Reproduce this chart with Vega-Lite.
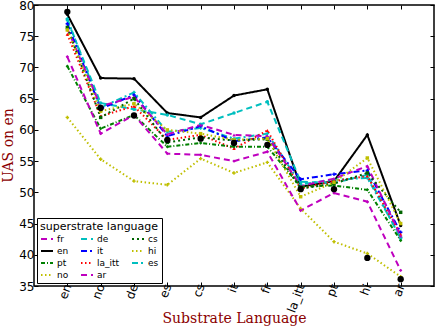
{
  "$schema": "https://vega.github.io/schema/vega-lite/v6.json",
  "width": 400,
  "height": 281,
  "autosize": {"type": "none"},
  "padding": {"left": 34, "top": 5, "right": 2, "bottom": 41},
  "background": "white",
  "config": {
    "view": {"stroke": "black", "strokeWidth": 1.5},
    "font": "DejaVu Sans",
    "axis": {"grid": false, "domain": false, "tickColor": "black", "tickSize": -4, "tickWidth": 1, "labelColor": "black", "labelFont": "DejaVu Sans", "labelFontSize": 12, "titleFont": "DejaVu Serif", "titleFontWeight": "normal", "titleFontSize": 15, "titleColor": "#8b0000"},
    "legend": {"strokeColor": "black", "fillColor": "white", "padding": 3, "cornerRadius": 0, "titleFont": "DejaVu Sans", "titleFontSize": 11, "titleFontWeight": "normal", "titleColor": "black", "titlePadding": 0, "labelFont": "DejaVu Sans", "labelFontSize": 9, "labelColor": "black"}
  },
  "data": {"values": [
    {"sup":"en","sub":"en","uas":78.5},{"sup":"en","sub":"no","uas":68.3},{"sup":"en","sub":"de","uas":68.2},{"sup":"en","sub":"es","uas":62.7},{"sup":"en","sub":"cs","uas":62.0},{"sup":"en","sub":"it","uas":65.5},{"sup":"en","sub":"fr","uas":66.5},{"sup":"en","sub":"la_itt","uas":50.9},{"sup":"en","sub":"pt","uas":51.8},{"sup":"en","sub":"hi","uas":59.2},{"sup":"en","sub":"ar","uas":44.7},
    {"sup":"de","sub":"en","uas":77.6},{"sup":"de","sub":"no","uas":64.3},{"sup":"de","sub":"de","uas":63.3},{"sup":"de","sub":"es","uas":62.4},{"sup":"de","sub":"cs","uas":60.9},{"sup":"de","sub":"it","uas":62.7},{"sup":"de","sub":"fr","uas":64.5},{"sup":"de","sub":"la_itt","uas":51.7},{"sup":"de","sub":"pt","uas":51.5},{"sup":"de","sub":"hi","uas":52.8},{"sup":"de","sub":"ar","uas":42.6},
    {"sup":"es","sub":"en","uas":77.8},{"sup":"es","sub":"no","uas":63.6},{"sup":"es","sub":"de","uas":66.0},{"sup":"es","sub":"es","uas":59.7},{"sup":"es","sub":"cs","uas":60.3},{"sup":"es","sub":"it","uas":58.6},{"sup":"es","sub":"fr","uas":59.4},{"sup":"es","sub":"la_itt","uas":51.3},{"sup":"es","sub":"pt","uas":52.0},{"sup":"es","sub":"hi","uas":52.3},{"sup":"es","sub":"ar","uas":42.8},
    {"sup":"it","sub":"en","uas":77.0},{"sup":"it","sub":"no","uas":63.4},{"sup":"it","sub":"de","uas":65.6},{"sup":"it","sub":"es","uas":59.0},{"sup":"it","sub":"cs","uas":60.6},{"sup":"it","sub":"it","uas":58.2},{"sup":"it","sub":"fr","uas":58.8},{"sup":"it","sub":"la_itt","uas":52.1},{"sup":"it","sub":"pt","uas":52.9},{"sup":"it","sub":"hi","uas":53.5},{"sup":"it","sub":"ar","uas":43.6},
    {"sup":"la_itt","sub":"en","uas":75.3},{"sup":"la_itt","sub":"no","uas":62.2},{"sup":"la_itt","sub":"de","uas":63.8},{"sup":"la_itt","sub":"es","uas":58.4},{"sup":"la_itt","sub":"cs","uas":59.2},{"sup":"la_itt","sub":"it","uas":57.0},{"sup":"la_itt","sub":"fr","uas":59.9},{"sup":"la_itt","sub":"la_itt","uas":50.6},{"sup":"la_itt","sub":"pt","uas":51.8},{"sup":"la_itt","sub":"hi","uas":52.6},{"sup":"la_itt","sub":"ar","uas":43.3},
    {"sup":"fr","sub":"en","uas":76.2},{"sup":"fr","sub":"no","uas":63.8},{"sup":"fr","sub":"de","uas":65.3},{"sup":"fr","sub":"es","uas":59.3},{"sup":"fr","sub":"cs","uas":60.8},{"sup":"fr","sub":"it","uas":59.2},{"sup":"fr","sub":"fr","uas":59.0},{"sup":"fr","sub":"la_itt","uas":51.0},{"sup":"fr","sub":"pt","uas":52.2},{"sup":"fr","sub":"hi","uas":54.2},{"sup":"fr","sub":"ar","uas":43.0},
    {"sup":"pt","sub":"en","uas":70.2},{"sup":"pt","sub":"no","uas":60.2},{"sup":"pt","sub":"de","uas":62.4},{"sup":"pt","sub":"es","uas":57.3},{"sup":"pt","sub":"cs","uas":57.9},{"sup":"pt","sub":"it","uas":57.3},{"sup":"pt","sub":"fr","uas":57.3},{"sup":"pt","sub":"la_itt","uas":50.9},{"sup":"pt","sub":"pt","uas":51.1},{"sup":"pt","sub":"hi","uas":50.4},{"sup":"pt","sub":"ar","uas":42.3},
    {"sup":"cs","sub":"en","uas":76.4},{"sup":"cs","sub":"no","uas":62.0},{"sup":"cs","sub":"de","uas":65.0},{"sup":"cs","sub":"es","uas":58.0},{"sup":"cs","sub":"cs","uas":58.8},{"sup":"cs","sub":"it","uas":58.3},{"sup":"cs","sub":"fr","uas":58.5},{"sup":"cs","sub":"la_itt","uas":50.6},{"sup":"cs","sub":"pt","uas":51.4},{"sup":"cs","sub":"hi","uas":53.1},{"sup":"cs","sub":"ar","uas":46.8},
    {"sup":"no","sub":"en","uas":76.0},{"sup":"no","sub":"no","uas":63.0},{"sup":"no","sub":"de","uas":64.2},{"sup":"no","sub":"es","uas":60.0},{"sup":"no","sub":"cs","uas":59.4},{"sup":"no","sub":"it","uas":58.4},{"sup":"no","sub":"fr","uas":58.6},{"sup":"no","sub":"la_itt","uas":49.3},{"sup":"no","sub":"pt","uas":51.6},{"sup":"no","sub":"hi","uas":55.5},{"sup":"no","sub":"ar","uas":45.0},
    {"sup":"hi","sub":"en","uas":62.0},{"sup":"hi","sub":"no","uas":55.3},{"sup":"hi","sub":"de","uas":51.8},{"sup":"hi","sub":"es","uas":51.2},{"sup":"hi","sub":"cs","uas":55.4},{"sup":"hi","sub":"it","uas":53.1},{"sup":"hi","sub":"fr","uas":54.8},{"sup":"hi","sub":"la_itt","uas":47.4},{"sup":"hi","sub":"pt","uas":42.1},{"sup":"hi","sub":"hi","uas":40.2},{"sup":"hi","sub":"ar","uas":36.5},
    {"sup":"ar","sub":"en","uas":71.7},{"sup":"ar","sub":"no","uas":59.4},{"sup":"ar","sub":"de","uas":62.4},{"sup":"ar","sub":"es","uas":56.2},{"sup":"ar","sub":"cs","uas":56.0},{"sup":"ar","sub":"it","uas":55.0},{"sup":"ar","sub":"fr","uas":56.5},{"sup":"ar","sub":"la_itt","uas":47.1},{"sup":"ar","sub":"pt","uas":49.9},{"sup":"ar","sub":"hi","uas":48.5},{"sup":"ar","sub":"ar","uas":37.5},
    {"sup":"ref","sub":"en","uas":78.9},{"sup":"ref","sub":"no","uas":63.5},{"sup":"ref","sub":"de","uas":62.3},{"sup":"ref","sub":"es","uas":58.4},{"sup":"ref","sub":"cs","uas":58.6},{"sup":"ref","sub":"it","uas":57.9},{"sup":"ref","sub":"fr","uas":57.6},{"sup":"ref","sub":"la_itt","uas":50.5},{"sup":"ref","sub":"pt","uas":50.5},{"sup":"ref","sub":"hi","uas":39.5},{"sup":"ref","sub":"ar","uas":36.1}
  ]},
  "resolve": {"axis": {"x": "independent", "y": "independent"}, "legend": {"color": "independent", "shape": "independent", "strokeDash": "independent"}},
  "layer": [
    {
      "transform": [{"filter": "datum.sup !== 'ref'"}],
      "mark": {"type": "line", "strokeWidth": 2},
      "encoding": {
        "x": {"field": "sub", "type": "nominal", "scale": {"type": "point", "padding": 1, "domain": ["en","no","de","es","cs","it","fr","la_itt","pt","hi","ar"]},
              "axis": {"orient": "bottom", "title": "Substrate Language", "labelAngle": -70, "labelAlign": "right", "labelBaseline": "middle", "labelPadding": 2, "titleFontSize": 14, "titleY": 36, "titleBaseline": "alphabetic"}},
        "y": {"field": "uas", "type": "quantitative", "scale": {"domain": [35, 80], "nice": false, "zero": false},
              "axis": {"orient": "left", "title": "UAS on en", "titleFontSize": 14, "values": [35,40,45,50,55,60,65,70,75,80], "labelPadding": 4, "titleX": -19, "titleY": 140, "titleBaseline": "bottom", "titleAlign": "center", "titleAngle": 270}},
        "color": {"field": "sup", "type": "nominal",
                  "scale": {"domain": ["fr","en","pt","no","de","it","la_itt","ar","cs","hi","es"],
                            "range": ["#bf00bf","#000000","#008000","#bfbf00","#00bfbf","#0000ff","#ff0000","#bf00bf","#006400","#bfbf00","#00bfbf"]},
                  "legend": {"title": "superstrate language", "orient": "bottom-left", "offset": 3, "columns": 3, "symbolType": "stroke", "symbolSize": 144, "symbolStrokeWidth": 2, "columnPadding": 8, "rowPadding": -2, "labelOffset": 3}},
        "strokeDash": {"field": "sup", "type": "nominal",
                  "scale": {"domain": ["fr","en","pt","no","de","it","la_itt","ar","cs","hi","es"],
                            "range": [[6,4],[1,0],[4,2,1,2],[1.5,2.5],[6,4],[6,3,2,3],[1.5,2.5],[6,4],[2,3],[1.5,2.5],[6,3,2,3]]},
                  "legend": {"title": "superstrate language", "orient": "bottom-left", "offset": 3, "columns": 3, "symbolType": "stroke", "symbolSize": 144, "symbolStrokeWidth": 2, "columnPadding": 8, "rowPadding": -2, "labelOffset": 3}}
      }
    },
    {
      "transform": [{"filter": "datum.sup !== 'ref'"}],
      "mark": {"type": "point", "filled": true, "opacity": 1, "size": 12},
      "encoding": {
        "x": {"field": "sub", "type": "nominal", "scale": {"type": "point", "padding": 1, "domain": ["en","no","de","es","cs","it","fr","la_itt","pt","hi","ar"]},
              "axis": {"orient": "top", "title": null, "labels": false}},
        "y": {"field": "uas", "type": "quantitative", "scale": {"domain": [35, 80], "nice": false, "zero": false},
              "axis": {"orient": "right", "title": null, "labels": false, "values": [35,40,45,50,55,60,65,70,75,80]}},
        "color": {"field": "sup", "type": "nominal", "legend": null},
        "shape": {"field": "sup", "type": "nominal", "legend": null,
                  "scale": {"domain": ["fr","en","pt","no","de","it","la_itt","ar","cs","hi","es"],
                            "range": ["triangle-up","circle","diamond","square","circle","cross","triangle-up","diamond","square","cross","cross"]}}
      }
    },
    {
      "transform": [{"filter": "datum.sup === 'ref'"}],
      "mark": {"type": "point", "filled": true, "opacity": 1, "size": 40, "color": "black"},
      "encoding": {
        "x": {"field": "sub", "type": "nominal", "scale": {"type": "point", "padding": 1, "domain": ["en","no","de","es","cs","it","fr","la_itt","pt","hi","ar"]}, "axis": null},
        "y": {"field": "uas", "type": "quantitative", "scale": {"domain": [35, 80], "nice": false, "zero": false}, "axis": null}
      }
    }
  ]
}
